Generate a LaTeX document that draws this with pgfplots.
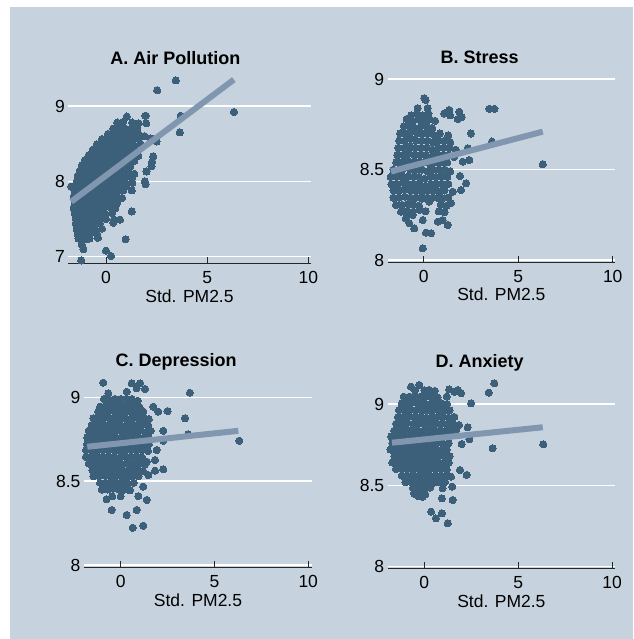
\documentclass[border=0pt]{standalone}
\usepackage{pgfplots}
\pgfplotsset{compat=1.18}
\usepackage{fontspec}
\setmainfont{Liberation Sans}
\definecolor{bgc}{RGB}{198,211,222}
\definecolor{mk}{RGB}{60,96,122}
\definecolor{fitc}{RGB}{128,151,175}
\pgfplotsset{
  panel/.style={
    scale only axis, clip=false, clip marker paths=true, anchor=south west,
    axis x line*=bottom, axis y line*=left,
    x axis line style={-, draw=black!85, line width=0.9pt},
    y axis line style={draw=none},
    xtick={0,5,10},
    tick align=inside, major tick length=6pt,
    xtick style={draw=black!85, line width=0.8pt},
    ytick style={draw=none},
    ymajorgrids, grid style={white, line width=1.5pt},
    tick label style={font=\fontsize{17.5}{20}\selectfont},
    /pgf/number format/assume math mode=true,
    xticklabel style={anchor=base, yshift=-20.5pt},
    yticklabel style={/pgf/number format/fixed},
    xlabel={Std. PM2.5},
    xlabel style={font=\fontsize{17.5}{20}\selectfont, at={(axis description cs:0.5,0)}, anchor=base, yshift=-39pt},
  },
  dots/.style={only marks, color=mk, mark=*, mark size=3.6pt, mark options={fill=mk, draw=mk, line width=0pt}},
  fitline/.style={no marks, draw=fitc, line width=6pt},
}
\tikzset{ttl/.style={anchor=base, font=\bfseries\fontsize{18}{21}\selectfont}}
\begin{document}
\begin{tikzpicture}
\fill[white] (0pt,0pt) rectangle (633pt,639pt);
\fill[bgc] (10pt,0pt) rectangle (633pt,632pt);

\node[ttl] at (175.3pt,574.7pt) {A. Air Pollution};
\node[ttl] at (479.7pt,575.7pt) {B. Stress};
\node[ttl] at (176.2pt,272.3pt) {C. Depression};
\node[ttl] at (479.7pt,271.7pt) {D. Anxiety};

% A. Air Pollution
\begin{axis}[panel, at={(68.3pt,375.7pt)}, width=242.4pt, height=191.3pt,
  xmin=-1.864, xmax=10.12, ymin=6.912, ymax=9.4515, ytick={7,8,9}]
\addplot[dots] coordinates {
(1.03,8.86) (1.94,8.87)
(0.55,8.78) (0.85,8.79) (1.29,8.78) (1.6,8.77) (1.99,8.77)
(0.36,8.70) (0.65,8.71) (0.95,8.70) (1.25,8.69) (1.55,8.70)
(0.10,8.63) (0.40,8.64) (0.70,8.63) (1.00,8.63) (1.30,8.62) (1.60,8.63) (1.90,8.60) (3.65,8.65)
(-0.20,8.56) (0.10,8.57) (0.40,8.56) (0.70,8.55) (1.00,8.56) (1.30,8.56) (1.60,8.57) (2.20,8.57) (2.50,8.53)
(-0.45,8.49) (-0.15,8.49) (0.15,8.50) (0.45,8.49) (0.75,8.48) (1.05,8.49) (1.35,8.49) (1.70,8.50)
(-0.65,8.42) (-0.35,8.42) (-0.05,8.43) (0.25,8.42) (0.55,8.42) (0.85,8.41) (1.15,8.42) (1.45,8.42)
(-0.85,8.35) (-0.55,8.35) (-0.25,8.36) (0.05,8.35) (0.35,8.35) (0.65,8.34) (0.95,8.35) (1.25,8.35) (1.60,8.34) (2.33,8.33)
(-1.05,8.28) (-0.75,8.28) (-0.45,8.29) (-0.15,8.28) (0.15,8.28) (0.45,8.27) (0.75,8.28) (1.05,8.28) (1.40,8.27) (2.25,8.20)
(-1.20,8.21) (-0.90,8.21) (-0.60,8.22) (-0.30,8.21) (0.00,8.21) (0.30,8.20) (0.60,8.21) (0.90,8.21) (1.20,8.20) (2.28,8.26)
(-1.30,8.14) (-1.00,8.14) (-0.70,8.15) (-0.40,8.14) (-0.10,8.14) (0.20,8.13) (0.50,8.14) (0.80,8.14) (1.10,8.13) (1.40,8.10) (2.00,8.13)
(-1.40,8.07) (-1.10,8.07) (-0.80,8.08) (-0.50,8.07) (-0.20,8.07) (0.10,8.06) (0.40,8.07) (0.70,8.07) (1.00,8.06) (1.30,8.05)
(-1.45,8.00) (-1.15,8.00) (-0.85,8.01) (-0.55,8.00) (-0.25,8.00) (0.05,7.99) (0.35,8.00) (0.65,8.00) (0.95,7.99) (1.30,7.98) (1.96,7.96) (1.92,8.00)
(-1.72,7.93) (-1.40,7.93) (-1.10,7.94) (-0.80,7.93) (-0.50,7.93) (-0.20,7.92) (0.10,7.93) (0.40,7.93) (0.70,7.92) (1.00,7.93) (1.27,7.88)
(-1.55,7.86) (-1.25,7.86) (-0.95,7.87) (-0.65,7.86) (-0.35,7.86) (-0.05,7.85) (0.25,7.86) (0.55,7.86) (0.85,7.88)
(-1.60,7.79) (-1.30,7.79) (-1.00,7.80) (-0.70,7.79) (-0.40,7.79) (-0.10,7.78) (0.20,7.79) (0.50,7.79) (0.80,7.78)
(-1.55,7.72) (-1.25,7.72) (-0.95,7.73) (-0.65,7.72) (-0.35,7.72) (-0.05,7.71) (0.25,7.72) (0.55,7.71)
(-1.60,7.65) (-1.30,7.65) (-1.00,7.66) (-0.70,7.65) (-0.40,7.65) (-0.10,7.64) (0.20,7.66) (0.45,7.64)
(-1.55,7.58) (-1.25,7.58) (-0.95,7.59) (-0.65,7.58) (-0.35,7.58) (-0.05,7.57) (0.30,7.58) (1.27,7.60)
(-1.50,7.51) (-1.20,7.51) (-0.90,7.52) (-0.60,7.51) (-0.30,7.51) (0.00,7.50) (0.40,7.49) (0.69,7.49)
(-1.50,7.44) (-1.20,7.44) (-0.90,7.45) (-0.60,7.44) (-0.30,7.44) (0.36,7.45)
(-1.45,7.37) (-1.15,7.37) (-0.85,7.38) (-0.55,7.37) (-0.20,7.37)
(-1.40,7.30) (-1.10,7.30) (-0.80,7.31) (-0.46,7.31)
(-1.36,7.24) (-1.05,7.23) (-0.82,7.24) (-0.40,7.25) (0.97,7.23)
(-1.20,7.16) (-1.12,7.10) (0.00,7.08) (0.25,7.01) (-1.23,6.95)
(3.45,9.34) (2.53,9.21) (6.32,8.92) (3.69,8.87) (1.97,8.87)
};
\addplot[fitline] coordinates {(-1.72,7.73) (6.32,9.35)};
\end{axis}

% B. Stress
\begin{axis}[panel, at={(387.7pt,377pt)}, width=227.3pt, height=190pt,
  xmin=-1.905, xmax=10.12, ymin=7.989, ymax=9.04, ytick={8,8.5,9}]
\addplot[dots] coordinates {
(0.03,8.895) (0.10,8.885)
(-0.32,8.84) (0.21,8.84) (1.35,8.83) (3.47,8.836) (3.74,8.836)
(-0.67,8.80) (-0.35,8.81) (-0.05,8.80) (0.25,8.81) (1.09,8.81) (1.40,8.80) (1.88,8.82)
(-0.90,8.78) (-0.60,8.77) (-0.30,8.78) (0.00,8.77) (0.30,8.78) (0.60,8.77) (1.80,8.78) (2.00,8.79)
(-1.05,8.74) (-0.75,8.74) (-0.45,8.73) (-0.15,8.74) (0.15,8.74) (0.45,8.73)
(-1.25,8.70) (-0.95,8.70) (-0.65,8.71) (-0.35,8.70) (-0.05,8.70) (0.25,8.70) (0.55,8.69) (0.85,8.70) (1.30,8.69) (2.50,8.70)
(-1.30,8.66) (-1.00,8.66) (-0.70,8.67) (-0.40,8.66) (-0.10,8.66) (0.20,8.66) (0.50,8.65) (0.80,8.66) (1.10,8.66) (1.40,8.65) (3.61,8.655)
(-1.35,8.62) (-1.05,8.62) (-0.75,8.63) (-0.45,8.62) (-0.15,8.62) (0.15,8.62) (0.45,8.61) (0.75,8.62) (1.05,8.62) (1.35,8.62) (1.70,8.61) (2.33,8.618)
(-1.40,8.58) (-1.10,8.58) (-0.80,8.59) (-0.50,8.58) (-0.20,8.58) (0.10,8.58) (0.40,8.57) (0.70,8.58) (1.00,8.58) (1.30,8.58) (1.60,8.57)
(-1.45,8.54) (-1.15,8.54) (-0.85,8.55) (-0.55,8.54) (-0.25,8.54) (0.05,8.54) (0.35,8.53) (0.65,8.54) (0.95,8.54) (1.25,8.54) (2.06,8.544) (2.41,8.553)
(-1.60,8.50) (-1.30,8.50) (-1.00,8.51) (-0.70,8.50) (-0.40,8.50) (-0.10,8.50) (0.20,8.49) (0.50,8.50) (0.80,8.50) (1.10,8.50) (1.40,8.49)
(-1.75,8.46) (-1.45,8.46) (-1.15,8.47) (-0.85,8.46) (-0.55,8.46) (-0.25,8.46) (0.05,8.45) (0.35,8.46) (0.65,8.46) (0.95,8.46) (1.25,8.46) (1.92,8.465)
(-1.70,8.42) (-1.40,8.42) (-1.10,8.43) (-0.80,8.42) (-0.50,8.42) (-0.20,8.42) (0.10,8.41) (0.40,8.42) (0.70,8.42) (1.00,8.42) (1.30,8.42) (2.24,8.424)
(-1.60,8.385) (-1.30,8.385) (-1.00,8.39) (-0.70,8.385) (-0.40,8.385) (-0.10,8.38) (0.20,8.385) (0.50,8.385) (0.80,8.38) (1.10,8.385) (1.53,8.378) (1.97,8.387)
(-1.60,8.345) (-1.30,8.345) (-1.00,8.35) (-0.70,8.345) (-0.40,8.345) (-0.10,8.34) (0.20,8.345) (0.50,8.345) (0.80,8.34) (1.00,8.341) (1.30,8.345)
(-1.47,8.304) (-1.15,8.305) (-0.85,8.31) (-0.55,8.305) (-0.25,8.30) (0.30,8.323) (0.90,8.305) (1.20,8.30) (1.44,8.314)
(-1.20,8.267) (-0.90,8.27) (-0.60,8.265) (-0.23,8.277) (0.10,8.27) (0.80,8.27) (1.10,8.265)
(-0.94,8.23) (-0.58,8.249) (-0.05,8.221) (0.74,8.212) (1.00,8.221)
(-0.76,8.203) (1.27,8.194) (-0.50,8.175) (0.12,8.151) (0.39,8.148) (-0.05,8.065)
(6.30,8.53)
};
\addplot[fitline] coordinates {(-1.73,8.49) (6.30,8.71)};
\end{axis}

% C. Depression
\begin{axis}[panel, at={(84pt,72pt)}, width=228pt, height=191pt,
  xmin=-1.956, xmax=10.2, ymin=7.988, ymax=9.127, ytick={8,8.5,9}]
\addplot[dots] coordinates {
(-0.93,9.087) (0.59,9.083) (1.03,9.083)
(0.85,9.054) (1.30,9.05)
(-0.66,9.024) (0.32,9.033) (3.69,9.027)
(-0.90,8.99) (-0.57,8.984) (-0.30,8.99) (0.00,8.99) (0.30,8.99) (0.60,8.99) (0.90,8.98)
(-1.10,8.944) (-0.80,8.95) (-0.50,8.95) (-0.20,8.95) (0.10,8.95) (0.40,8.95) (0.70,8.95) (1.00,8.94) (1.74,8.944)
(-1.20,8.915) (-0.90,8.915) (-0.60,8.92) (-0.30,8.915) (0.00,8.915) (0.30,8.915) (0.60,8.91) (0.90,8.915) (1.20,8.915) (2.00,8.914) (2.50,8.918)
(-1.45,8.875) (-1.15,8.875) (-0.85,8.88) (-0.55,8.875) (-0.25,8.875) (0.05,8.875) (0.35,8.87) (0.65,8.875) (0.95,8.875) (1.25,8.875) (1.50,8.87) (3.43,8.875)
(-1.55,8.835) (-1.25,8.835) (-0.95,8.84) (-0.65,8.835) (-0.35,8.835) (-0.05,8.835) (0.25,8.83) (0.55,8.835) (0.85,8.835) (1.15,8.835) (1.45,8.835)
(-1.70,8.80) (-1.40,8.80) (-1.10,8.80) (-0.80,8.80) (-0.50,8.80) (-0.20,8.80) (0.10,8.79) (0.40,8.80) (0.70,8.80) (1.00,8.80) (1.30,8.79) (1.60,8.80) (2.27,8.80) (3.60,8.78)
(-1.78,8.76) (-1.50,8.76) (-1.20,8.76) (-0.90,8.76) (-0.60,8.76) (-0.30,8.76) (0.00,8.755) (0.30,8.76) (0.60,8.76) (0.90,8.76) (1.20,8.755) (1.50,8.76) (2.27,8.741)
(-1.80,8.72) (-1.50,8.72) (-1.20,8.72) (-0.90,8.72) (-0.60,8.72) (-0.30,8.715) (0.00,8.72) (0.30,8.72) (0.60,8.72) (0.90,8.715) (1.20,8.72) (1.50,8.72) (6.32,8.741)
(-1.85,8.685) (-1.55,8.685) (-1.25,8.69) (-0.95,8.685) (-0.65,8.685) (-0.35,8.685) (-0.05,8.68) (0.25,8.685) (0.55,8.685) (0.85,8.685) (1.15,8.685) (1.45,8.68) (1.92,8.686)
(-1.85,8.645) (-1.55,8.645) (-1.25,8.65) (-0.95,8.645) (-0.65,8.645) (-0.35,8.645) (-0.05,8.64) (0.25,8.645) (0.55,8.645) (0.85,8.645) (1.15,8.64) (1.39,8.616) (1.83,8.626)
(-1.70,8.605) (-1.40,8.605) (-1.10,8.61) (-0.80,8.605) (-0.50,8.605) (-0.20,8.605) (0.10,8.60) (0.40,8.605) (0.70,8.605) (1.00,8.605) (1.30,8.60)
(-1.50,8.565) (-1.20,8.565) (-0.90,8.57) (-0.60,8.565) (-0.30,8.565) (0.00,8.565) (0.30,8.56) (0.60,8.565) (0.90,8.565) (1.20,8.56) (1.83,8.562) (2.27,8.571)
(-1.45,8.53) (-1.15,8.53) (-0.85,8.535) (-0.55,8.53) (-0.25,8.53) (0.05,8.53) (0.35,8.525) (0.65,8.53) (0.95,8.53) (1.47,8.537)
(-1.10,8.49) (-0.80,8.49) (-0.50,8.495) (-0.20,8.49) (0.10,8.49) (0.40,8.485) (0.70,8.49) (1.20,8.467)
(-1.00,8.45) (-0.70,8.45) (-0.40,8.455) (-0.10,8.45) (0.20,8.45) (0.50,8.445)
(-0.75,8.392) (-0.45,8.41) (0.00,8.41) (0.94,8.411) (1.39,8.388)
(-0.48,8.328) (0.85,8.328) (0.32,8.298) (0.64,8.222) (1.20,8.234)
};
\addplot[fitline] coordinates {(-1.78,8.705) (6.27,8.80)};
\end{axis}

% D. Anxiety
\begin{axis}[panel, at={(387.7pt,70.7pt)}, width=227.3pt, height=191.3pt,
  xmin=-1.95, xmax=10.16, ymin=7.99, ymax=9.166, ytick={8,8.5,9}]
\addplot[dots] coordinates {
(3.73,9.127) (3.43,9.07)
(-0.71,9.106) (-0.27,9.117) (1.33,9.09) (1.78,9.086)
(-0.50,9.085) (0.00,9.085) (0.27,9.086) (0.55,9.08) (1.60,9.075) (1.96,9.066)
(-1.10,9.045) (-0.80,9.045) (-0.50,9.05) (-0.20,9.045) (0.10,9.045) (0.40,9.045) (0.70,9.04) (1.20,9.045)
(-1.20,9.004) (-0.90,9.004) (-0.60,9.01) (-0.30,9.004) (0.00,9.004) (0.30,9.0) (0.60,9.004) (0.90,9.004) (1.20,9.0) (2.49,9.004)
(-1.35,8.962) (-1.05,8.962) (-0.75,8.967) (-0.45,8.962) (-0.15,8.962) (0.15,8.96) (0.45,8.962) (0.75,8.962) (1.05,8.96) (1.35,8.962)
(-1.40,8.92) (-1.10,8.92) (-0.80,8.925) (-0.50,8.92) (-0.20,8.92) (0.10,8.915) (0.40,8.92) (0.70,8.92) (1.00,8.92) (1.30,8.915) (1.60,8.92)
(-1.50,8.878) (-1.20,8.878) (-0.90,8.883) (-0.60,8.878) (-0.30,8.878) (0.00,8.875) (0.30,8.878) (0.60,8.878) (0.90,8.878) (1.20,8.875) (1.50,8.878) (1.85,8.87) (2.31,8.857)
(-1.60,8.836) (-1.30,8.836) (-1.00,8.84) (-0.70,8.836) (-0.40,8.836) (-0.10,8.833) (0.20,8.836) (0.50,8.836) (0.80,8.836) (1.10,8.833) (1.40,8.836) (1.70,8.84)
(-1.77,8.80) (-1.45,8.80) (-1.15,8.80) (-0.85,8.80) (-0.55,8.80) (-0.25,8.795) (0.05,8.80) (0.35,8.80) (0.65,8.80) (0.95,8.795) (1.25,8.80) (2.40,8.783)
(-1.70,8.76) (-1.40,8.76) (-1.10,8.765) (-0.80,8.76) (-0.50,8.76) (-0.20,8.755) (0.10,8.76) (0.40,8.76) (0.70,8.76) (1.00,8.755) (1.30,8.76) (1.99,8.754) (3.64,8.728) (6.34,8.752)
(-1.80,8.72) (-1.50,8.72) (-1.20,8.725) (-0.90,8.72) (-0.60,8.72) (-0.30,8.715) (0.00,8.72) (0.30,8.72) (0.60,8.72) (0.90,8.715) (1.20,8.72)
(-1.60,8.68) (-1.30,8.68) (-1.00,8.685) (-0.70,8.68) (-0.40,8.68) (-0.10,8.675) (0.20,8.68) (0.50,8.68) (0.80,8.68) (1.10,8.675) (1.35,8.68)
(-1.70,8.64) (-1.40,8.64) (-1.10,8.645) (-0.80,8.64) (-0.50,8.64) (-0.20,8.635) (0.10,8.64) (0.40,8.64) (0.70,8.64) (1.00,8.635) (1.30,8.64)
(-1.50,8.60) (-1.20,8.60) (-0.90,8.605) (-0.60,8.60) (-0.30,8.60) (0.00,8.595) (0.30,8.60) (0.60,8.60) (0.90,8.60) (1.20,8.595) (1.90,8.594)
(-1.20,8.56) (-0.90,8.56) (-0.60,8.565) (-0.30,8.56) (0.00,8.56) (0.30,8.555) (0.60,8.56) (0.90,8.56) (1.20,8.555) (1.42,8.553) (2.26,8.564)
(-1.00,8.52) (-0.70,8.52) (-0.40,8.525) (-0.10,8.52) (0.20,8.52) (0.50,8.515) (0.80,8.52) (1.10,8.52)
(-0.60,8.485) (-0.30,8.49) (0.00,8.485) (0.30,8.485) (0.98,8.482) (1.48,8.492)
(-0.55,8.45) (-0.25,8.45) (0.05,8.445) (0.94,8.42) (-0.35,8.435) (-0.09,8.43) (1.51,8.41)
(0.36,8.338) (0.94,8.328) (0.62,8.297) (1.25,8.267)
};
\addplot[fitline] coordinates {(-1.72,8.762) (6.31,8.857)};
\end{axis}
\end{tikzpicture}
\end{document}
